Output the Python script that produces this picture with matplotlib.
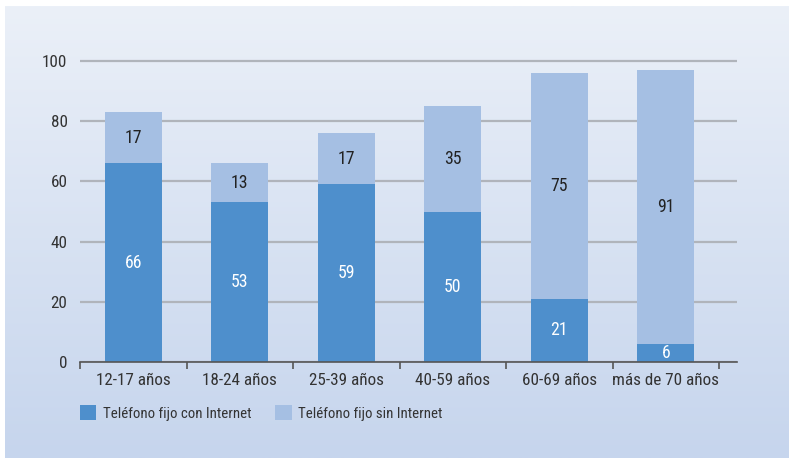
import matplotlib
matplotlib.use('Agg')
import matplotlib.pyplot as plt
from matplotlib import font_manager
import numpy as np
from matplotlib.patches import Patch

categories = ['12-17 años', '18-24 años', '25-39 años', '40-59 años', '60-69 años', 'más de 70 años']
con_internet = [66, 53, 59, 50, 21, 6]
sin_internet = [17, 13, 17, 35, 75, 91]
series_names = ['Teléfono fijo con Internet', 'Teléfono fijo sin Internet']

dark = '#4e8fcc'
light = '#a5bfe3'

# pick a narrow face if one is installed
installed = {f.name for f in font_manager.fontManager.ttflist}
narrow = [n for n in ['Roboto Condensed', 'Liberation Sans Narrow', 'DejaVu Sans Condensed',
                      'Open Sans Condensed'] if n in installed]
if narrow:
    family, fs = narrow[0], 12.3
else:
    family, fs = 'Liberation Sans', 10.5
plt.rcParams['font.family'] = [family, 'DejaVu Sans']
plt.rcParams['font.size'] = fs

fig = plt.figure(figsize=(7.89, 4.58), dpi=100)
fig.patch.set_facecolor('white')

# gradient panel behind everything
bg = fig.add_axes([5 / 789, 0, 1 - 5 / 789, 1 - 6 / 458], zorder=-10)
grad = np.linspace(0, 1, 256).reshape(-1, 1)
top_c = np.array([0xeb, 0xf0, 0xf8]) / 255
bot_c = np.array([0xc6, 0xd5, 0xed]) / 255
img = top_c * (1 - grad[..., None]) + bot_c * grad[..., None]
bg.imshow(img, aspect='auto', extent=[0, 1, 0, 1])
bg.axis('off')

ax = fig.add_axes([80 / 789, 1 - 362 / 458, (737 - 80) / 789, (362 - 46) / 458])
ax.patch.set_alpha(0)

x = np.arange(len(categories))
w = 0.535
ax.bar(x, con_internet, w, color=dark, zorder=3)
ax.bar(x, sin_internet, w, bottom=con_internet, color=light, zorder=3)

for i in range(len(categories)):
    ax.text(x[i], con_internet[i] / 2, str(con_internet[i]), ha='center', va='center',
            color='white', fontsize=fs + 0.5, zorder=4)
    ax.text(x[i], con_internet[i] + sin_internet[i] / 2, str(sin_internet[i]), ha='center',
            va='center', color='#222222', fontsize=fs + 0.5, zorder=4)

ax.set_ylim(0, 105)
ax.set_xlim(-0.5, 5.5 + 18 / 106.5)
ax.set_yticks([0, 20, 40, 60, 80, 100])
ax.yaxis.grid(True, color='#b0b4bb', linewidth=1.6, zorder=1)
ax.tick_params(axis='y', length=0, pad=9, labelcolor='#333333')

ax.set_xticks(np.arange(-0.5, 6, 1))
ax.set_xticklabels([])
ax.set_xticks(x, minor=True)
ax.set_xticklabels(categories, minor=True)
ax.tick_params(axis='x', which='major', length=5, width=1.2, color='#555555', direction='out')
ax.tick_params(axis='x', which='minor', length=0, pad=8, labelcolor='#333333')

for s in ['top', 'right', 'left']:
    ax.spines[s].set_visible(False)
ax.spines['bottom'].set_color('#555555')
ax.spines['bottom'].set_linewidth(1.2)
ax.spines['bottom'].set_zorder(5)

handles = [Patch(facecolor=dark), Patch(facecolor=light)]
fig.legend(handles, series_names, loc='center left', bbox_to_anchor=(80 / 789, 1 - 413 / 458),
           ncol=2, frameon=False, handlelength=1.1, handleheight=1.1, borderpad=0,
           borderaxespad=0, handletextpad=0.45, columnspacing=1.6, labelcolor='#333333',
           fontsize=fs - 1.6)

fig.savefig('out.png', dpi=100)
